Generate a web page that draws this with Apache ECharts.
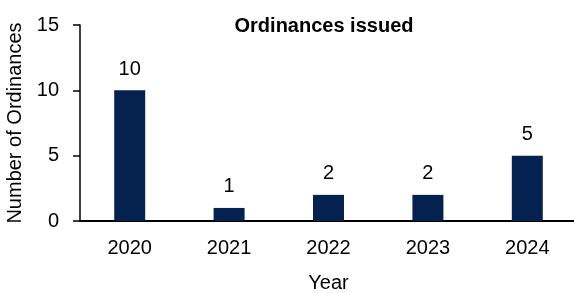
<!DOCTYPE html>
<html>
<head>
<meta charset="utf-8">
<script src="https://cdn.jsdelivr.net/npm/echarts@6/dist/echarts.min.js"></script>
<style>
  html, body { margin: 0; padding: 0; background: #fff; }
  #chart { width: 574px; height: 293px; }
</style>
</head>
<body>
<div id="chart"></div>
<script>
// data
var years = ["2020", "2021", "2022", "2023", "2024"];
var ordinances = [10, 1, 2, 2, 5];
var yTicks = [0, 5, 10, 15];

var font = "'Liberation Sans', Arial, sans-serif";
var myChart = echarts.init(document.getElementById("chart"));
let option = {
  animation: false,
  textStyle: { fontFamily: font },
  title: {
    text: "Ordinances issued",
    left: 319,
    textAlign: "center",
    top: 11,
    textStyle: {
      fontFamily: font,
      fontSize: 20,
      fontWeight: "bold",
      color: "#000",
    },
  },
  grid: {
    left: 80,
    top: 25,
    width: 497,
    bottom: 72,
    outerBoundsMode: "none",
  },
  xAxis: {
    type: "category",
    data: years,
    name: "Year",
    nameLocation: "middle",
    nameGap: 52,
    nameTextStyle: { fontFamily: font, fontSize: 20, color: "#000" },
    axisTick: { show: false },
    axisLine: { lineStyle: { color: "#000", width: 2 } },
    axisLabel: { fontFamily: font, fontSize: 20, color: "#000", margin: 17 },
  },
  yAxis: {
    type: "value",
    min: yTicks[0],
    max: yTicks[yTicks.length - 1],
    interval: 5,
    name: "Number of Ordinances",
    nameLocation: "middle",
    nameGap: 54,
    nameTextStyle: { fontFamily: font, fontSize: 20, color: "#000" },
    splitLine: { show: false },
    axisLine: { show: true, lineStyle: { color: "#000", width: 1.5 } },
    axisTick: { show: true, length: 7, lineStyle: { color: "#000", width: 1.5 } },
    axisLabel: { fontFamily: font, fontSize: 20, color: "#000", margin: 21 },
  },
  series: [
    {
      type: "bar",
      data: ordinances,
      barWidth: 31,
      itemStyle: { color: "#05214f" },
      label: {
        show: true,
        position: "top",
        distance: 11,
        fontFamily: font,
        fontSize: 20,
        color: "#000",
      },
    },
  ],
};
myChart.setOption(option);
</script>
</body>
</html>
